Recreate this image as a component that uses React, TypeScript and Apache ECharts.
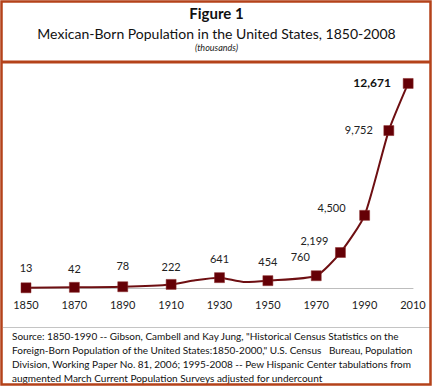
import React, { useEffect, useRef } from "react";
import * as echarts from "echarts";

// ---- data ----
const years = [1850, 1870, 1890, 1910, 1920, 1930, 1940, 1950, 1970, 1980, 1990, 2000, 2008];
const population = [13, 42, 78, 222, 486, 641, 377, 454, 760, 2199, 4500, 9752, 12671];
const unmarkedYears = [1920, 1940];
const boldLabelYears = [2008];

const titleText = "Figure 1";
const subtitleText = "Mexican-Born Population in the United States, 1850-2008";
const unitText = "(thousands)";
const sourceLines = [
  'Source: 1850-1990 -- Gibson, Cambell and Kay Jung, "Historical Census Statistics on the',
  'Foreign-Born Population of the United States:1850-2000," U.S. Census   Bureau, Population',
  "Division, Working Paper No. 81, 2006; 1995-2008 -- Pew Hispanic Center tabulations from",
  "augmented March Current Population Surveys adjusted for undercount",
];

// label placement (style, not data)
const labelOffsets: Record<number, [number, number]> = {
  1850: [0, -20],
  1870: [0, -19],
  1890: [0, -21],
  1910: [0, -18],
  1930: [0, -19],
  1950: [0, -19],
  1970: [-16, -19],
  1980: [-26, -12],
  1990: [-33, -8],
  2000: [-30, -1],
  2008: [-36, -1],
};

const FONT = "Lato";
const RUST = "#b4421a";

export default function App() {
  const ref = useRef<HTMLDivElement>(null);

  useEffect(() => {
    if (!ref.current) return;
    const chart = echarts.init(ref.current, null, { renderer: "svg" });

    const seriesData = years.map((y, i) => {
      const fmt = population[i].toLocaleString("en-US");
      if (unmarkedYears.includes(y)) {
        return { value: [y, population[i]], symbol: "none", label: { show: false } };
      }
      const bold = boldLabelYears.includes(y);
      return {
        value: [y, population[i]],
        label: {
          show: true,
          position: "inside",
          offset: labelOffsets[y] || [0, -18],
          formatter: fmt,
          fontWeight: bold ? "bold" : "normal",
          fontSize: bold ? 12 : 11,
          color: bold ? "#111" : "#222",
          fontFamily: FONT,
        },
      };
    });

    chart.setOption({
      animation: false,
      backgroundColor: "#ffffff",
      textStyle: { fontFamily: FONT },
      grid: { left: 26, right: 20, top: 62, bottom: 99 },
      xAxis: {
        type: "value",
        min: 1850,
        max: 2010,
        interval: 10,
        axisLine: { show: true, lineStyle: { color: "#bdbdbd", width: 1 } },
        axisTick: { show: false },
        splitLine: { show: false },
        axisLabel: {
          color: "#222",
          fontSize: 11,
          margin: 11,
          fontFamily: FONT,
          formatter: (v: number) => ((v - 1850) % 20 === 0 ? String(v) : ""),
        },
      },
      yAxis: { type: "value", min: 0, max: 14000, show: false },
      series: [
        {
          type: "line",
          data: seriesData,
          symbol: "rect",
          symbolSize: 10,
          smooth: 0.2,
          lineStyle: { color: "#6e0f12", width: 2 },
          itemStyle: { color: "#650006", borderColor: "#8a2a2a", borderWidth: 0.5 },
        },
      ],
      graphic: [
        {
          type: "rect",
          shape: { x: 1.5, y: 1.5, width: 429, height: 383 },
          style: { fill: "none", stroke: RUST, lineWidth: 2.5 },
          silent: true,
          z: 10,
        },
        {
          type: "line",
          shape: { x1: 2, y1: 62, x2: 431, y2: 62 },
          style: { stroke: RUST, lineWidth: 3 },
          silent: true,
          z: 10,
        },
        {
          type: "line",
          shape: { x1: 3, y1: 327.5, x2: 430, y2: 327.5 },
          style: { stroke: "#c4c4c4", lineWidth: 1 },
          silent: true,
        },
        {
          type: "text",
          x: 216.5,
          y: 13,
          style: {
            text: titleText,
            font: `bold 15px ${FONT}`,
            fill: "#111",
            textAlign: "center",
            textVerticalAlign: "middle",
          },
        },
        {
          type: "text",
          x: 216.5,
          y: 33,
          style: {
            text: subtitleText,
            font: `14px ${FONT}`,
            fill: "#111",
            textAlign: "center",
            textVerticalAlign: "middle",
          },
        },
        {
          type: "text",
          x: 216.5,
          y: 47,
          style: {
            text: unitText,
            font: `italic 9px ${FONT}`,
            fill: "#222",
            textAlign: "center",
            textVerticalAlign: "middle",
          },
        },
        {
          type: "text",
          x: 12,
          y: 329,
          style: {
            text: sourceLines.join("\n"),
            font: `10px ${FONT}`,
            lineHeight: 14,
            fill: "#111",
            textAlign: "left",
            textVerticalAlign: "top",
          },
        },
      ],
    });

    return () => chart.dispose();
  }, []);

  return (
    <div
      ref={ref}
      style={{ position: "absolute", left: 0, top: 0, width: 433, height: 387, background: "#fff" }}
    />
  );
}
